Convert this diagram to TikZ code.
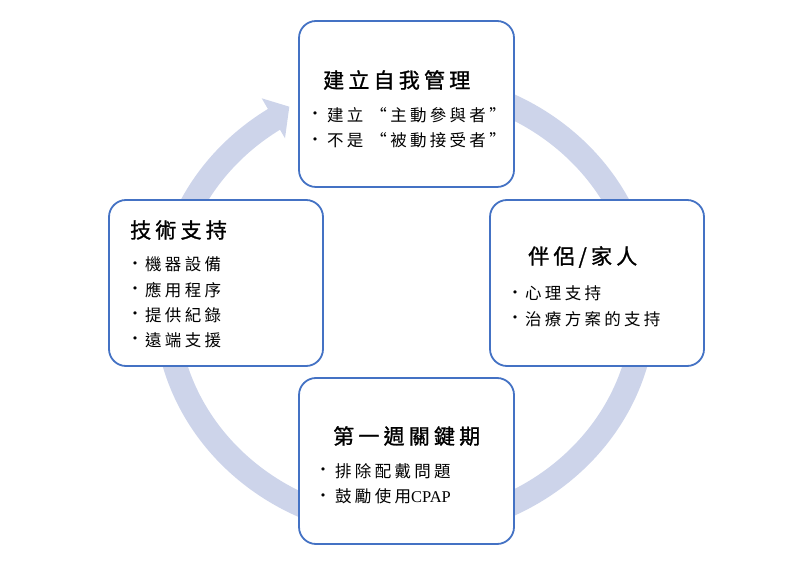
\documentclass[tikz,border=0pt]{standalone}
\usepackage{fontspec}
\setmainfont{Noto Sans CJK TC}
\newfontfamily\titlefont[LetterSpace=20,FakeBold=1.2]{Noto Sans CJK TC}
\newfontfamily\itemfont[LetterSpace=20]{Noto Sans CJK TC}
\newfontfamily\latinserif{Liberation Serif}
\newfontfamily\bulletfont{DejaVu Sans}
\definecolor{boxblue}{RGB}{68,114,196}
\definecolor{ringblue}{RGB}{205,212,234}
\begin{document}
\begin{tikzpicture}[x=1pt,y=1pt,
  card/.style={draw=boxblue, line width=1.8pt, fill=white, rounded corners=17pt, inner sep=0pt},
  ttl/.style={anchor=west, inner sep=0pt, font=\titlefont\fontsize{21}{24}\selectfont},
  itm/.style={anchor=west, inner sep=0pt, font=\itemfont\fontsize{16.5}{18}\selectfont},
  bul/.style={anchor=center, inner sep=0pt, font=\bulletfont\fontsize{11}{11}\selectfont},
  ring/.style={draw=ringblue, line width=24pt}]
\useasboundingbox (0,0) rectangle (800,570);
% circular arrow
\draw[ring] (405,487) arc[start angle=90, end angle=-237.1, x radius=239, y radius=222] coordinate (shaftend);
\coordinate (hbo) at (261.7,471.7);
\coordinate (htip) at (289.3,463.3);
\coordinate (hbi) at (285,431.7);
\fill[ringblue] (hbo) -- (htip) -- (hbi) -- cycle;
% boxes
\node[card, minimum width=215pt, minimum height=166pt] (top) at (406.5,466) {};
\node[card, minimum width=214pt, minimum height=166pt] (left) at (216,287) {};
\node[card, minimum width=214pt, minimum height=166pt] (right) at (597,287) {};
\node[card, minimum width=215pt, minimum height=166pt] (bottom) at (406.5,109) {};
% top
\node[ttl] (t0) at (323,490) {建立自我管理};
\node[bul] (tb1) at (315,455) {•};
\node[itm] (t1) at (327,455) {建立\ “主動參與者”};
\node[bul] (tb2) at (315,429.5) {•};
\node[itm] (t2) at (327,429.5) {不是\ “被動接受者”};
% left
\node[ttl] (l0) at (130,340) {技術支持};
\node[bul] (lb1) at (135,305.5) {•};
\node[itm] (l1) at (145,305.5) {機器設備};
\node[bul] (lb2) at (135,280) {•};
\node[itm] (l2) at (145,280) {應用程序};
\node[bul] (lb3) at (135,255) {•};
\node[itm] (l3) at (145,255) {提供紀錄};
\node[bul] (lb4) at (135,230) {•};
\node[itm] (l4) at (145,230) {遠端支援};
% right
\node[ttl] (r0) at (528,313) {伴侶/家人};
\node[bul] (rb1) at (515,276.5) {•};
\node[itm] (r1) at (525,276.5) {心理支持};
\node[bul] (rb2) at (515,251) {•};
\node[itm] (r2) at (525,251) {治療方案的支持};
% bottom
\node[ttl] (b0) at (333,134) {第一週關鍵期};
\node[bul] (bb1) at (323,99) {•};
\node[itm] (b1) at (335,99) {排除配戴問題};
\node[bul] (bb2) at (323,73.5) {•};
\node[itm] (b2) at (335,73.5) {鼓勵使用{\latinserif\fontsize{16.5}{18}\selectfont CPAP}};
\end{tikzpicture}
\end{document}
